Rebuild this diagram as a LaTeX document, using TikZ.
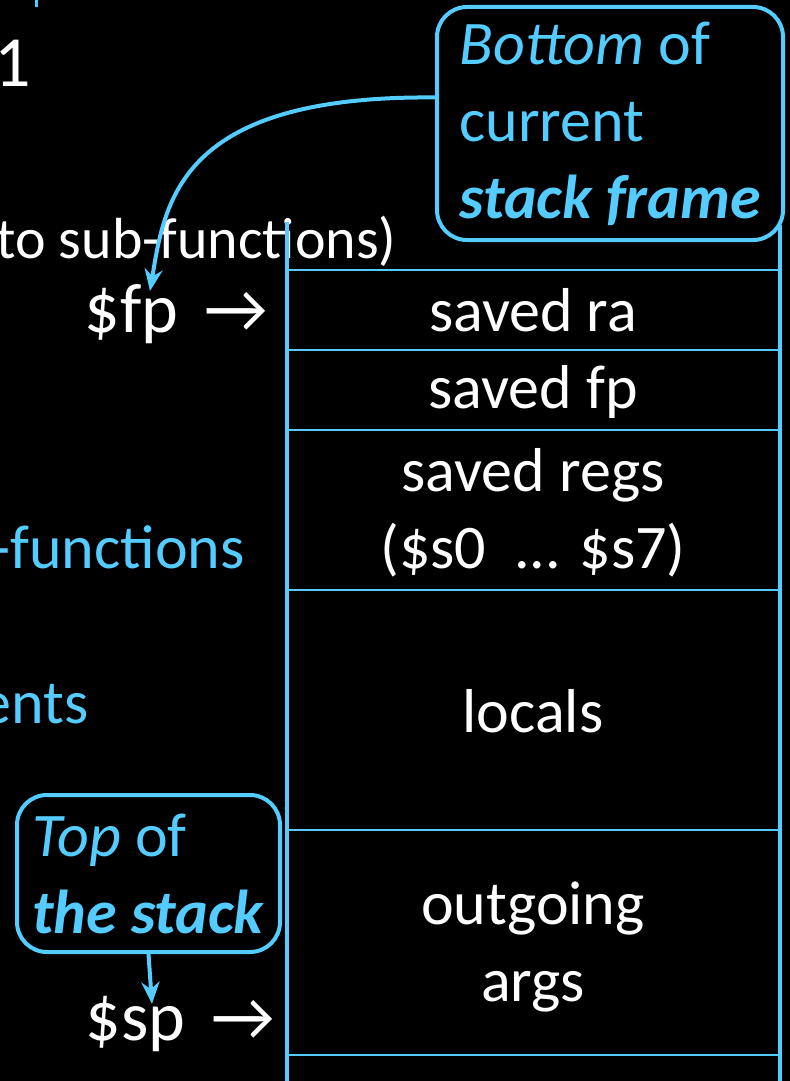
\documentclass[tikz,border=0pt]{standalone}
\usepackage{fontspec}
\setmainfont{Carlito}
\usetikzlibrary{arrows.meta,calc}
\definecolor{sky}{RGB}{84,204,255}

\begin{document}
\begin{tikzpicture}[
  x=0.5pt,y=-0.5pt,
  every node/.style={inner sep=0pt,text=white,font=\fontsize{31}{38.5}\selectfont},
  note/.style={draw=sky,line width=2pt,rounded corners=15pt,text=sky,align=left},
  cell/.style={align=center},
  ptr/.style={font=\fontsize{35}{42}\selectfont,anchor=base east},
  side/.style={anchor=base east,text=sky},
  rule/.style={draw=sky,line width=1.2pt},
  wall/.style={draw=sky,line width=2pt},
  arrow/.style={-{Stealth[length=11pt,width=9pt]},draw=sky,line width=2pt}
]
  \clip (0,0) rectangle (790,1081);
  \fill[black] (0,0) rectangle (790,1081);
  \draw[sky,line width=1.5pt] (36.5,0) -- (36.5,7);
  \node[font=\fontsize{36}{43}\selectfont,anchor=base east] (num) at (31,87) {1};
  % left-hand labels, cut by the slide edge
  \node[anchor=base east,font=\fontsize{29}{35}\selectfont] (pass) at (397,258) {to sub-functions)};
  \node[side] (subf) at (245,568) {b-functions};
  \node[side] (argl) at (89,723) {ents};
  % pointers
  \node[ptr] (fp) at (268,332) {\$fp\hspace{13pt}→};
  \node[ptr] (sp) at (275,1040) {\$sp\hspace{13pt}→};
  % stack frame
  \node[cell] (ra) at (533,310) {saved ra};
  \node[cell] (sfp) at (533,392) {saved fp};
  \node[cell] (regs) at (533,513) {saved regs\\(\$s0~ ... \$s7)};
  \node[cell] (out) at (533,947) {outgoing\\args};
  \node[cell] (loc) at (533,711) {locals};
  \foreach \y in {270,350,430,590,830,1055}
    \draw[rule] (287,\y) -- (780,\y);
  \draw[wall] (287,222) -- (287,1081);
  \draw[wall] (780,225) -- (780,1081);
  % callouts
  \node[note,minimum width=173pt,minimum height=116.5pt] (bot) at (610,123.5)
    {\textit{Bottom} of\\current\\\textbf{\textit{stack frame}}};
  \node[note,minimum width=131.5pt,minimum height=78.5pt] (top) at (148.5,873.5)
    {\textit{Top} of\\\textbf{\textit{the stack}}};
  \coordinate (fptip) at (150,291);
  \coordinate (sptip) at (152,1004);
  \draw[arrow] ($(bot.west)+(0,-26)$) .. controls (180,95) and (165,200) .. (fptip);
  \draw[arrow] (top.south) -- (sptip);
\end{tikzpicture}
\end{document}
